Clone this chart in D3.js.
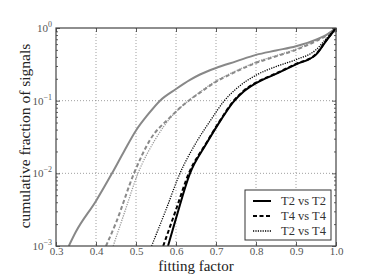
<!DOCTYPE html>
<html>
<head>
<meta charset="utf-8">
<script src="https://cdn.jsdelivr.net/npm/d3@7"></script>
<style>
  body { margin: 0; background: #fff; }
  text { font-family: "Liberation Serif", "DejaVu Serif", serif; }
</style>
</head>
<body>
<div id="chart"></div>
<script>
// data: fitting factor vs cumulative fraction
const graySolidFF = [0.332, 0.35, 0.40, 0.44, 0.47, 0.50, 0.53, 0.56, 0.60, 0.635, 0.66, 0.70, 0.75, 0.80, 0.85, 0.90, 0.95, 0.98, 1.0];
const graySolidCF = [0.001, 0.00158, 0.00417, 0.01, 0.02, 0.0389, 0.0646, 0.1, 0.1445, 0.193, 0.229, 0.282, 0.347, 0.427, 0.49, 0.562, 0.692, 0.832, 1.0];

const grayDashFF = [0.425, 0.45, 0.495, 0.535, 0.585, 0.6225, 0.66, 0.70, 0.75, 0.80, 0.85, 0.90, 0.95, 0.98, 1.0];
const grayDashCF = [0.001, 0.00209, 0.01, 0.0288, 0.0589, 0.0912, 0.129, 0.182, 0.251, 0.331, 0.407, 0.501, 0.661, 0.813, 1.0];

const grayDotFF = [0.443, 0.47, 0.505, 0.5475, 0.59, 0.625, 0.66, 0.70, 0.75, 0.80, 0.85, 0.90, 0.95, 0.98, 1.0];
const grayDotCF = [0.001, 0.00275, 0.01, 0.0288, 0.0617, 0.0933, 0.132, 0.186, 0.257, 0.339, 0.417, 0.513, 0.676, 0.822, 1.0];

const blackSolidFF = [0.58, 0.60, 0.635, 0.675, 0.714, 0.743, 0.77, 0.80, 0.85, 0.90, 0.95, 0.975, 1.0];
const blackSolidCF = [0.001, 0.0024, 0.01, 0.0251, 0.0562, 0.0955, 0.135, 0.174, 0.234, 0.316, 0.43, 0.661, 1.0];

const blackDashFF = [0.568, 0.60, 0.632, 0.675, 0.714, 0.743, 0.77, 0.80, 0.85, 0.90, 0.95, 0.975, 1.0];
const blackDashCF = [0.001, 0.00316, 0.01, 0.0257, 0.0575, 0.0977, 0.138, 0.177, 0.237, 0.32, 0.437, 0.668, 1.0];

const blackDotFF = [0.539, 0.575, 0.61, 0.65, 0.689, 0.718, 0.75, 0.80, 0.85, 0.90, 0.95, 0.975, 1.0];
const blackDotCF = [0.001, 0.00316, 0.01, 0.0263, 0.0562, 0.0955, 0.145, 0.224, 0.295, 0.367, 0.501, 0.708, 1.0];

const xTicks = [0.3, 0.4, 0.5, 0.6, 0.7, 0.8, 0.9, 1.0];
const yTicks = [1e-3, 1e-2, 1e-1, 1];
const yTickExp = ["\u22123", "\u22122", "\u22121", "0"];
const legendNames = ["T2 vs T2", "T4 vs T4", "T2 vs T4"];

const series = [
    {ff: grayDotFF, cf: grayDotCF, color: "#999", width: 1.3, dash: "1.2,1.2"},
    {ff: grayDashFF, cf: grayDashCF, color: "#8a8a8a", width: 2, dash: "4,2.5"},
    {ff: graySolidFF, cf: graySolidCF, color: "#888", width: 2, dash: null},
    {ff: blackDotFF, cf: blackDotCF, color: "#000", width: 1.3, dash: "1.2,1.2"},
    {ff: blackSolidFF, cf: blackSolidCF, color: "#000", width: 2, dash: null},
    {ff: blackDashFF, cf: blackDashCF, color: "#000", width: 2, dash: "4,2.5"}
];
const legendStyles = [
    {color: "#000", width: 2, dash: null},
    {color: "#000", width: 2, dash: "4,2.5"},
    {color: "#000", width: 1.3, dash: "1.2,1.2"}
];

const margin = {top: 28, right: 38, bottom: 34, left: 56};
const width = 374 - margin.left - margin.right;
const height = 280 - margin.top - margin.bottom;

const svg = d3.select("#chart")
    .append("svg")
    .attr("width", 374)
    .attr("height", 280)
    .append("g")
    .attr("transform", `translate(${margin.left}, ${margin.top})`);

const xScale = d3.scaleLinear().domain([0.3, 1.0]).range([0, width]);
const yScale = d3.scaleLog().domain([1e-3, 1]).range([height, 0]);

svg.append("clipPath").attr("id", "clip")
    .append("rect").attr("width", width).attr("height", height);

// grid
svg.selectAll(".xgrid")
    .data(xTicks.slice(1, -1))
    .enter()
    .append("line")
    .attr("x1", d => xScale(d)).attr("x2", d => xScale(d))
    .attr("y1", 0).attr("y2", height)
    .attr("stroke", "#777").attr("stroke-width", 0.7)
    .attr("stroke-dasharray", "1,2");

svg.selectAll(".ygrid")
    .data(yTicks.slice(1, -1))
    .enter()
    .append("line")
    .attr("x1", 0).attr("x2", width)
    .attr("y1", d => yScale(d)).attr("y2", d => yScale(d))
    .attr("stroke", "#777").attr("stroke-width", 0.7)
    .attr("stroke-dasharray", "1,2");

// curves
const line = d3.line()
    .x(d => xScale(d[0]))
    .y(d => yScale(d[1]))
    .curve(d3.curveMonotoneX);

svg.append("g").attr("clip-path", "url(#clip)")
    .selectAll("path")
    .data(series)
    .enter()
    .append("path")
    .attr("d", s => line(s.ff.map((f, i) => [f, s.cf[i]])))
    .attr("fill", "none")
    .attr("stroke", s => s.color)
    .attr("stroke-width", s => s.width)
    .attr("stroke-dasharray", s => s.dash);

// ticks inside, all four sides
const xAxisB = d3.axisBottom(xScale).tickValues(xTicks).tickSize(-4).tickFormat(d3.format(".1f")).tickPadding(1);
const xAxisT = d3.axisTop(xScale).tickValues(xTicks).tickSize(-4).tickFormat("");

const minor = [];
[1e-3, 1e-2, 1e-1].forEach(p => { for (let k = 2; k <= 9; k++) minor.push(p * k); });

const yAxisL = d3.axisLeft(yScale).tickValues(yTicks).tickSize(-4).tickFormat("");
const yAxisR = d3.axisRight(yScale).tickValues(yTicks).tickSize(-4).tickFormat("");
const yMinorL = d3.axisLeft(yScale).tickValues(minor).tickSize(-2).tickFormat("");
const yMinorR = d3.axisRight(yScale).tickValues(minor).tickSize(-2).tickFormat("");

svg.append("g").attr("class", "x-axis").attr("transform", `translate(0, ${height})`).call(xAxisB);
svg.append("g").call(xAxisT);
svg.append("g").call(yAxisL);
svg.append("g").call(yMinorL);
svg.append("g").attr("transform", `translate(${width}, 0)`).call(yAxisR);
svg.append("g").attr("transform", `translate(${width}, 0)`).call(yMinorR);

svg.selectAll(".domain").remove();
svg.selectAll(".tick line").attr("stroke", "#333").attr("stroke-width", 0.8);
svg.selectAll(".x-axis text")
    .attr("font-family", "Liberation Serif")
    .attr("font-size", 11)
    .attr("fill", "#555");

// frame
svg.append("rect")
    .attr("width", width).attr("height", height)
    .attr("fill", "none")
    .attr("stroke", "#444").attr("stroke-width", 1.2);

// y tick labels 10^k
const ylab = svg.selectAll(".ylab")
    .data(yTicks)
    .enter()
    .append("text")
    .attr("x", -4)
    .attr("y", d => yScale(d) + 4)
    .attr("text-anchor", "end")
    .attr("font-size", 11)
    .attr("fill", "#555");
ylab.append("tspan").text("10");
ylab.append("tspan")
    .attr("dy", -5)
    .attr("font-size", 8)
    .text((d, i) => yTickExp[i]);

// axis labels
svg.append("text")
    .attr("x", width / 2)
    .attr("y", height + 25)
    .attr("text-anchor", "middle")
    .attr("font-size", 15)
    .attr("fill", "#222")
    .text("fitting factor");

svg.append("text")
    .attr("transform", "rotate(-90)")
    .attr("x", -height / 2 + 1)
    .attr("y", -26.5)
    .attr("text-anchor", "middle")
    .attr("font-size", 15.5)
    .attr("fill", "#222")
    .text("cumulative fraction of signals");

// legend
const lg = svg.append("g").attr("transform", `translate(${width - 91}, ${height - 56})`);
lg.append("rect")
    .attr("width", 86).attr("height", 50)
    .attr("fill", "#fff")
    .attr("stroke", "#333").attr("stroke-width", 1);

lg.selectAll(".lline")
    .data(legendStyles)
    .enter()
    .append("line")
    .attr("x1", 8).attr("x2", 26)
    .attr("y1", (d, i) => 11 + i * 15).attr("y2", (d, i) => 11 + i * 15)
    .attr("stroke", d => d.color)
    .attr("stroke-width", d => d.width)
    .attr("stroke-dasharray", d => d.dash);

lg.selectAll(".ltext")
    .data(legendNames)
    .enter()
    .append("text")
    .attr("x", 36)
    .attr("y", (d, i) => 15 + i * 15)
    .attr("font-size", 12.5)
    .attr("fill", "#333")
    .text(d => d);
</script>
</body>
</html>
